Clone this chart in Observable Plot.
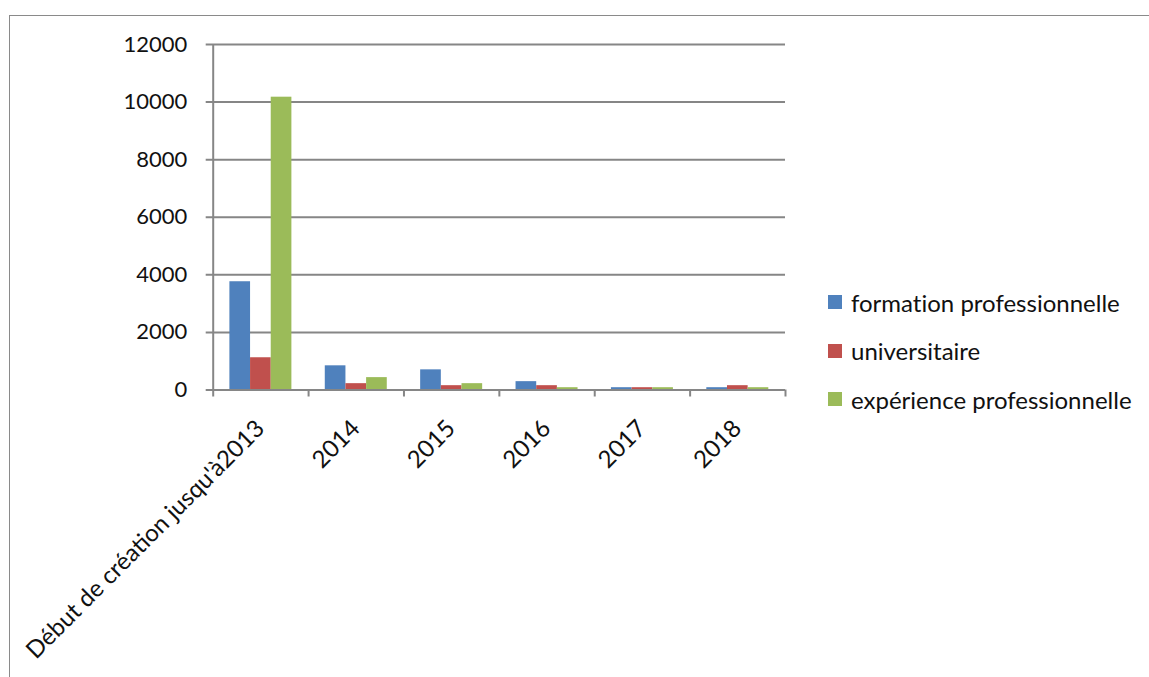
<!DOCTYPE html>
<html lang="fr">
<head>
<meta charset="utf-8">
<script src="https://cdn.jsdelivr.net/npm/d3@7"></script>
<script src="https://cdn.jsdelivr.net/npm/@observablehq/plot@0.6"></script>
<style>
  html, body { margin: 0; padding: 0; background: #ffffff; }
  #wrap { position: relative; width: 1149px; height: 677px; overflow: hidden; font-family: Lato, "Open Sans", sans-serif; }
  #border { position: absolute; left: 9px; top: 15px; right: -10px; bottom: -10px; border-left: 1.5px solid #8a8a8a; border-top: 1.5px solid #8a8a8a; }
  #chart { position: absolute; left: 0; top: 0; }
  #legend { position: absolute; left: 828px; top: 278px; font-size: 24px; color: #111; font-variant-ligatures: none; }
  #legend .row { display: flex; align-items: center; height: 48.5px; white-space: nowrap; }
  #legend .sw { width: 14px; height: 14px; margin-right: 9px; flex: none; }
</style>
</head>
<body>
<div id="wrap">
  <div id="border"></div>
  <div id="chart"></div>
  <div id="legend"></div>
</div>
<script>
// Number of entries per year and per type of qualification
const categories = ["Début de création jusqu'à2013", "2014", "2015", "2016", "2017", "2018"];
const series = ["formation professionnelle", "universitaire", "expérience professionnelle"];
const formation = [3760, 840, 700, 290, 80, 80];
const universitaire = [1120, 220, 150, 150, 80, 150];
const experience = [10170, 430, 220, 80, 80, 80];
const yTicks = [0, 2000, 4000, 6000, 8000, 10000, 12000];
const colors = ["#4F81BD", "#C0504D", "#9BBB59"];

const values = [formation, universitaire, experience];

// Grouped bars: each category occupies one unit on x, the three series share
// the middle 65% of it.
const groupPad = 0.175;
const barUnit = (1 - 2 * groupPad) / series.length;

const rows = [];
categories.forEach((cat, i) => {
  series.forEach((s, k) => {
    rows.push({
      category: cat,
      series: s,
      value: values[k][i],
      x1: i + groupPad + k * barUnit,
      x2: i + groupPad + (k + 1) * barUnit
    });
  });
});

const grey = "#868686";

const chart = Plot.plot({
  width: 1149,
  height: 677,
  marginLeft: 212.7,
  marginRight: 364,
  marginTop: 44,
  marginBottom: 287.5,
  style: { fontFamily: "Lato, 'Open Sans', sans-serif", fontSize: "22px", color: "#111", background: "transparent", overflow: "visible" },
  x: { domain: [0, categories.length], axis: null },
  y: { domain: [0, 12000], axis: null },
  color: { domain: series, range: colors },
  marks: [
    // horizontal gridlines, including the short tick left of the axis
    Plot.ruleY(yTicks, { y: d => d, x1: 0, x2: categories.length, stroke: grey, strokeWidth: 2, insetLeft: -7 }),
    Plot.text(yTicks, { y: d => d, x: 0, text: d => String(d), textAnchor: "end", dx: -26, fill: "#111" }),
    // x axis ticks at category boundaries
    Plot.ruleX(d3.range(categories.length + 1), { x: d => d, y1: 0, y2: 0, stroke: grey, strokeWidth: 2, insetBottom: -7 }),
    // bars
    Plot.rectY(rows, { x1: "x1", x2: "x2", y1: 0, y2: "value", fill: "series" }),
    // axes lines
    Plot.ruleX([0], { y1: 0, y2: 12000, stroke: grey, strokeWidth: 2 }),
    Plot.ruleY([0], { x1: 0, x2: categories.length, stroke: grey, strokeWidth: 2 }),
    // rotated category labels
    Plot.text(categories, { x: (d, i) => i + 0.5, y: 0, text: d => d, rotate: -45, textAnchor: "end", lineAnchor: "bottom", dx: 5, dy: 40, fill: "#111", fontSize: 24 })
  ]
});

document.getElementById("chart").appendChild(chart);

// legend
const legend = d3.select("#legend");
series.forEach((s, k) => {
  const row = legend.append("div").attr("class", "row");
  row.append("div").attr("class", "sw").style("background", colors[k]);
  row.append("span").text(s);
});
</script>
</body>
</html>
